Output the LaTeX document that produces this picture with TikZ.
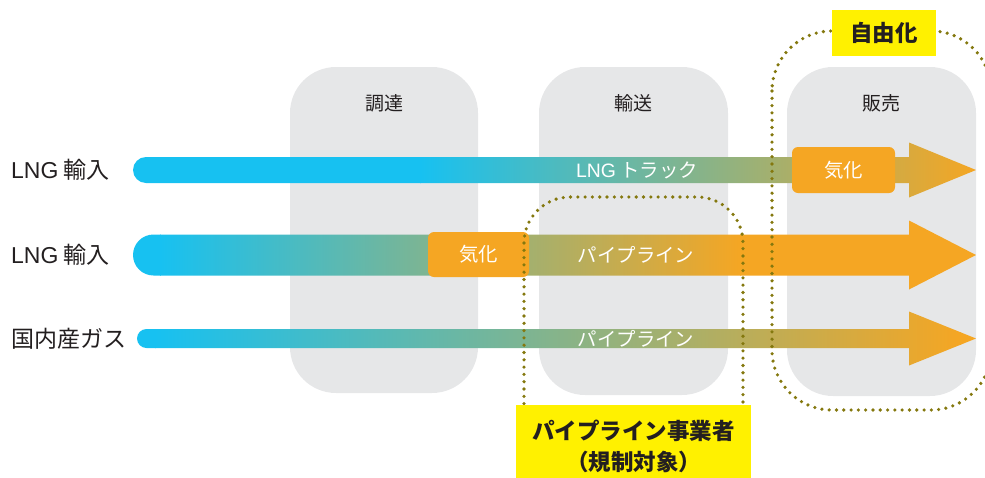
\documentclass[tikz,border=0pt]{standalone}
\usepackage{fontspec}
\setmainfont{Noto Sans CJK JP}
\newfontfamily\lat{Liberation Sans}
\definecolor{cyanc}{RGB}{23,193,241}
\definecolor{orangec}{RGB}{245,166,35}
\definecolor{colgray}{RGB}{230,231,232}
\definecolor{olivec}{RGB}{132,120,14}
\definecolor{yellowc}{RGB}{255,241,0}
\definecolor{textc}{RGB}{35,31,32}
\begin{document}
\begin{tikzpicture}[x=1pt,y=-1pt,
  colbox/.style={fill=colgray, rounded corners=46pt},
  collabel/.style={text=textc, font=\fontsize{19}{21}\selectfont, inner sep=0pt},
  rowlabel/.style={text=textc, font=\fontsize{23}{26}\selectfont, inner sep=0pt, anchor=west},
  barlabel/.style={text=white, font=\fontsize{19.4}{21}\selectfont, inner sep=0pt},
  kika/.style={fill=orangec, rounded corners=6pt, text=white, font=\fontsize{19.4}{21}\selectfont, inner sep=0pt},
  dotline/.style={draw=olivec, line width=3.6pt, line cap=round, dash pattern=on 0pt off 7.3pt},
  ybox/.style={fill=yellowc, text=textc, font=\bfseries\fontsize{22.5}{31}\selectfont, inner sep=0pt, align=center}]
\useasboundingbox (0,0) rectangle (985,477);
\clip (0,0) rectangle (985,477);
% columns
\fill[colbox] (290,67) rectangle (478,393);
\fill[colbox] (539,67) rectangle (728,395);
\fill[colbox] (787,67) rectangle (976,396);
\node[collabel] (c1) at (384,103) {調達};
\node[collabel] (c2) at (633,103) {輸送};
\node[collabel] (c3) at (881,103) {販売};
% row 1
\begin{scope}
\clip (146,157) -- (909,157) -- (909,142.5) -- (976,170) -- (909,197.5) -- (909,183) -- (146,183) arc[start angle=90,end angle=270,radius=13] -- cycle;
\fill[cyanc] (100,130) rectangle (421,210);
\shade[left color=cyanc, right color=orangec] (420,130) rectangle (977,210);
\end{scope}
% row 2
\begin{scope}
\clip (153.5,234.5) -- (909,234.5) -- (909,220.5) -- (976,255) -- (909,289.5) -- (909,275.5) -- (153.5,275.5) arc[start angle=90,end angle=270,radius=20.5] -- cycle;
\fill[cyanc] (100,210) rectangle (161,300);
\shade[left color=cyanc, right color=orangec] (160,210) rectangle (741,300);
\fill[orangec] (740,210) rectangle (977,300);
\end{scope}
% row 3
\begin{scope}
\clip (146.5,329) -- (909,329) -- (909,311.5) -- (976,338.5) -- (909,365.5) -- (909,348) -- (146.5,348) arc[start angle=90,end angle=270,radius=9.5] -- cycle;
\fill[cyanc] (100,300) rectangle (156,380);
\shade[left color=cyanc, right color=orangec] (155,300) rectangle (961,380);
\fill[orangec] (960,300) rectangle (977,380);
\end{scope}
% row labels
\node[rowlabel] (r1) at (11,170) {{\lat LNG} 輸入};
\node[rowlabel] (r2) at (11,255) {{\lat LNG} 輸入};
\node[rowlabel] (r3) at (11,338.5) {国内産ガス};
% bar labels
\node[barlabel] (b1) at (637,170) {{\lat LNG} トラック};
\node[barlabel] (b2) at (636,255) {パイプライン};
\node[barlabel] (b3) at (636,338.5) {パイプライン};
% vaporization boxes
\node[kika, minimum width=103pt, minimum height=46pt] (k1) at (843.5,170) {気化};
\node[kika, minimum width=101pt, minimum height=45pt] (k2) at (478.5,254.5) {気化};
% dotted regions
\draw[dotline, rounded corners=46pt] (524,197) rectangle (743,470);
\draw[dotline, rounded corners=60pt] (772,31) rectangle (991,410);
% yellow labels
\node[ybox, minimum width=104pt, minimum height=46pt] (lib) at (884,33) {自由化};
\node[ybox, minimum width=235pt, minimum height=82pt] (pipe) at (633.5,446) {パイプライン事業者\\（規制対象）};
\end{tikzpicture}
\end{document}
